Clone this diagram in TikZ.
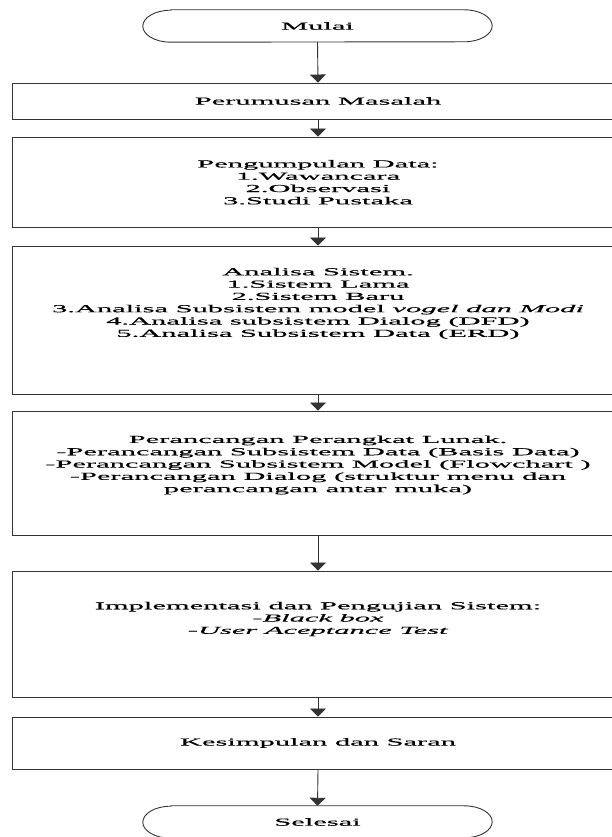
\documentclass[tikz,border=0pt]{standalone}
\usepackage{fontspec}
\setmainfont{Liberation Serif}[FakeStretch=2.85,FakeBold=0.4]
\usetikzlibrary{arrows.meta}

\begin{document}
\begin{tikzpicture}[x=1pt,y=1pt,
  font=\fontsize{10.7}{12.3}\selectfont,
  kotak/.style={rectangle,draw=black!80,line width=0.9pt,minimum width=610.6pt,inner sep=0pt},
  oval/.style={rectangle,minimum width=349pt,minimum height=32pt,inner sep=0pt},
  garis/.style={draw=black!80,line width=0.9pt},
  isi/.style={align=center,inner sep=0pt},
  panah/.style={garis,-{Triangle[width=16pt,length=8pt]}}]
\useasboundingbox (0,0) rectangle (612,837);
% mulai
\node[oval] (mulai) at (317.5,811) {Mulai};
\draw[garis] ([xshift=28pt]mulai.north west) -- ([xshift=-28pt]mulai.north east)
  arc[start angle=90,end angle=-90,x radius=28pt,y radius=16pt]
  -- ([xshift=28pt]mulai.south west)
  arc[start angle=270,end angle=90,x radius=28pt,y radius=16pt] -- cycle;
% kotak proses
\node[kotak,minimum height=36pt] (rumusan) at (318,736) {Perumusan Masalah};
\node[kotak,minimum height=90.5pt,isi] (kumpul) at (318,654.75)
  {Pengumpulan Data:\\1.Wawancara\\2.Observasi\\3.Studi Pustaka};
\node[kotak,minimum height=148pt] (analisa) at (318,517) {};
\node[isi] (analisa-teks) at (318,533.5)
  {Analisa Sistem.\\1.Sistem Lama\\2.Sistem Baru\\
   3.Analisa Subsistem model \textit{vogel dan Modi}\\
   4.Analisa subsistem Dialog (DFD)\\5.Analisa Subsistem Data (ERD)};
\node[kotak,minimum height=124pt] (rancang) at (318,364) {};
\node[isi] (rancang-teks) at (318,372)
  {Perancangan Perangkat Lunak.\\-Perancangan Subsistem Data (Basis Data)\\
   -Perancangan Subsistem Model (Flowchart )\\
   -Perancangan Dialog (struktur menu dan\\perancangan antar muka)};
\node[kotak,minimum height=126pt] (uji) at (318,203) {};
\node[isi] (uji-teks) at (318,218)
  {Implementasi dan Pengujian Sistem:\\-\textit{Black box}\\-\textit{User Aceptance Test}};
\node[kotak,minimum height=52pt] (simpul) at (318,94) {Kesimpulan dan Saran};
% selesai
\node[oval] (selesai) at (317.5,15) {Selesai};
\draw[garis] ([xshift=28pt]selesai.north west) -- ([xshift=-28pt]selesai.north east)
  arc[start angle=90,end angle=-90,x radius=28pt,y radius=16pt]
  -- ([xshift=28pt]selesai.south west)
  arc[start angle=270,end angle=90,x radius=28pt,y radius=16pt] -- cycle;
% panah
\draw[panah] (mulai.south) -- (rumusan.north);
\draw[panah] (rumusan.south) -- (kumpul.north);
\draw[panah] (kumpul.south) -- (analisa.north);
\draw[panah] (analisa.south) -- (rancang.north);
\draw[panah] (rancang.south) -- (uji.north);
\draw[panah] (uji.south) -- (simpul.north);
\draw[panah] (simpul.south) -- (selesai.north);
\end{tikzpicture}
\end{document}
